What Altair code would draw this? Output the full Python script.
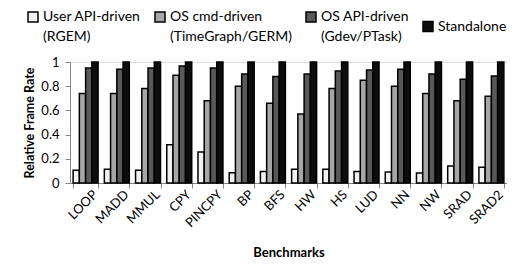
import altair as alt
import pandas as pd

benchmarks = ["LOOP", "MADD", "MMUL", "CPY", "PINCPY", "BP", "BFS", "HW", "HS", "LUD", "NN", "NW", "SRAD", "SRAD2"]
series = ["User API-driven\n(RGEM)", "OS cmd-driven\n(TimeGraph/GERM)", "OS API-driven\n(Gdev/PTask)", "Standalone"]
user_api = [0.105, 0.113, 0.105, 0.317, 0.256, 0.085, 0.096, 0.113, 0.113, 0.096, 0.09, 0.083, 0.14, 0.13]
os_cmd = [0.74, 0.74, 0.78, 0.89, 0.68, 0.80, 0.66, 0.57, 0.78, 0.85, 0.80, 0.74, 0.68, 0.716]
os_api = [0.95, 0.94, 0.95, 0.967, 0.95, 0.90, 0.88, 0.90, 0.925, 0.934, 0.94, 0.90, 0.857, 0.884]
standalone = [1.0] * 14
colors = ["#f2f2f2", "#a6a6a6", "#595959", "#0d0d0d"]

rows = []
for vals, s in zip([user_api, os_cmd, os_api, standalone], series):
    for b, v in zip(benchmarks, vals):
        rows.append({"Benchmark": b, "Series": s, "Value": v})
df = pd.DataFrame(rows)

FONT = "Lato"

chart = alt.Chart(df).mark_bar(stroke="black", strokeWidth=1.5).encode(
    x=alt.X("Benchmark:N", sort=benchmarks, title="Benchmarks",
            scale=alt.Scale(paddingInner=0.2, paddingOuter=0.1),
            axis=alt.Axis(labelAngle=-45, labelFontSize=13, titleFontSize=13,
                          titleFontWeight="bold", domainColor="#868686", tickColor="#868686",
                          tickBand="extent", labelColor="black", titleColor="black",
                          labelFont=FONT, titleFont=FONT, titlePadding=17, labelPadding=0,
                          labelOffset=5)),
    xOffset=alt.XOffset("Series:N", sort=series),
    y=alt.Y("Value:Q", title="Relative Frame Rate",
            scale=alt.Scale(domain=[0, 1]),
            axis=alt.Axis(values=[0, 0.2, 0.4, 0.6, 0.8, 1.0], format="~g", grid=False,
                          labelFontSize=13, titleFontSize=12.5, titleFontWeight="bold",
                          domainColor="#868686", tickColor="#868686", labelColor="black",
                          titleColor="black", labelFont=FONT, titleFont=FONT, labelPadding=6)),
    color=alt.Color("Series:N", sort=series,
                    scale=alt.Scale(domain=series, range=colors),
                    legend=alt.Legend(title=None, orient="none", legendX=-44, legendY=-52,
                                      direction="horizontal", columns=4, symbolType="square",
                                      symbolSize=100, symbolStrokeColor="black", symbolStrokeWidth=1.5,
                                      labelFont=FONT, labelFontSize=14, labelColor="black",
                                      labelExpr="split(datum.label, '\\n')", labelLimit=200,
                                      columnPadding=11, labelOffset=3)),
).properties(
    width=437, height=121,
    autosize=alt.AutoSizeParams(type="none"),
    padding={"left": 62, "top": 54, "right": 0, "bottom": 80},
).configure_view(stroke=None).configure(style={"guide-label": {"lineHeight": 20}})

chart.save("out.html", embed_options={"renderer": "svg", "actions": False})
